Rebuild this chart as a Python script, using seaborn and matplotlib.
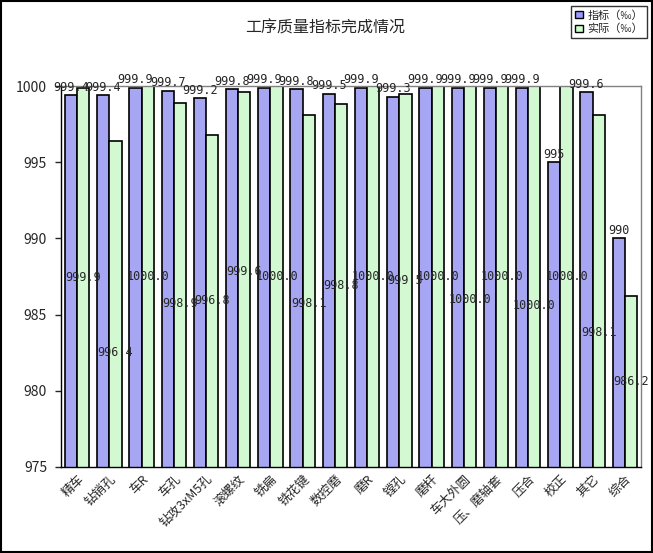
import matplotlib
matplotlib.use("Agg")
import matplotlib.pyplot as plt
from matplotlib.patches import Rectangle, Patch
import seaborn as sns
import pandas as pd

processes = ['精车', '钻销孔', '车R', '车孔', '钻攻3xM5孔', '滚螺纹', '铣扁', '铣花键', '数控磨',
             '磨R', '镗孔', '磨杆', '车大外圆', '压、磨轴套', '压合', '校正', '其它', '综合']
target = [999.4, 999.4, 999.9, 999.7, 999.2, 999.8, 999.9, 999.8, 999.5,
          999.9, 999.3, 999.9, 999.9, 999.9, 999.9, 995, 999.6, 990]
actual = [999.9, 996.4, 1000.0, 998.9, 996.8, 999.6, 1000.0, 998.1, 998.8,
          1000.0, 999.5, 1000.0, 1000.0, 1000.0, 1000.0, 1000.0, 998.1, 986.2]
# hand-moved label nudges (value units) for the actual series
actual_label_shift = [0, -3.2, 0, -1.2, 0, 0.5, 0, -0.8, 0,
                      0, 0, 0, -1.5, 0, -1.9, 0, -2.7, 0]
series = ['指标（‰）', '实际（‰）']
colors = ['#9999FF', '#CCFFCC']

sns.set_style("white")
plt.rcParams['font.family'] = ['Noto Sans CJK SC', 'DejaVu Sans']

df = pd.DataFrame({
    '工序': processes * 2,
    '值': target + actual,
    '类型': [series[0]] * len(processes) + [series[1]] * len(processes),
})

fig = plt.figure(figsize=(6.53, 5.53), dpi=100)
ax = fig.add_axes([61 / 653, 1 - 467 / 553, 580 / 653, 381 / 553])

sns.barplot(data=df, x='工序', y='值', hue='类型', palette=colors, ax=ax,
            edgecolor='black', linewidth=1.2, width=0.76, legend=False)

ax.set_ylim(975, 1000)
ax.set_xlim(-0.5, len(processes) - 0.5)
ax.set_yticks(range(975, 1001, 5))
ax.set_xlabel('')
ax.set_ylabel('')
ax.tick_params(axis='y', which='both', left=True, length=4, width=1, labelsize=10, pad=6)
ax.tick_params(axis='x', length=0, labelsize=9, pad=4)
for lab in ax.get_xticklabels():
    lab.set_rotation(45)
    lab.set_ha('right')
    lab.set_rotation_mode('anchor')

for s in ['left', 'bottom']:
    ax.spines[s].set_color('black')
    ax.spines[s].set_linewidth(1)
for s in ['top', 'right']:
    ax.spines[s].set_color('#808080')
    ax.spines[s].set_linewidth(1)

half = 0.76 / 4
for i, (t, a, sh) in enumerate(zip(target, actual, actual_label_shift)):
    ax.text(i - half, t + 0.1, f"{t:g}", ha='center', va='bottom', fontsize=8.5,
            family=['DejaVu Sans Mono'], clip_on=False)
    ax.text(i + half, (975 + a) / 2 + sh, f"{a:.1f}", ha='center', va='center', fontsize=8.5,
            family=['DejaVu Sans Mono'])

fig.text(325 / 653, 1 - 28 / 553, '工序质量指标完成情况', ha='center', va='center', fontsize=11.5)

handles = [Patch(facecolor=c, edgecolor='black', linewidth=1) for c in colors]
leg = fig.legend(handles, series, loc='upper right', bbox_to_anchor=(647 / 653, 1 - 6 / 553),
                 fontsize=8, frameon=True, fancybox=False, handlelength=0.7, handleheight=0.7,
                 handletextpad=0.4, borderpad=0.35, labelspacing=0.3, borderaxespad=0)
leg.get_frame().set_edgecolor('black')
leg.get_frame().set_linewidth(1)

fig.patches.append(Rectangle((0.002, 0.002), 0.996, 0.996, transform=fig.transFigure,
                             fill=False, edgecolor='black', linewidth=1.5))

fig.savefig('out.png', dpi=100)
